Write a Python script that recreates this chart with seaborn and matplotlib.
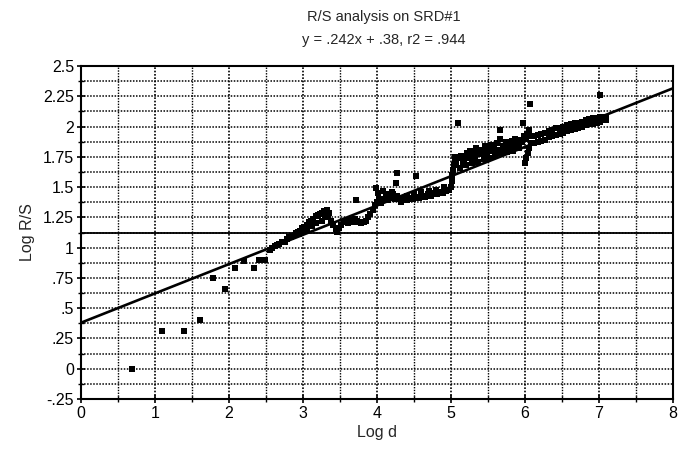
import matplotlib
matplotlib.use("Agg")
import matplotlib.pyplot as plt
from matplotlib.ticker import MultipleLocator, FixedLocator
import seaborn as sns
import pandas as pd

# ---------------- data ----------------
# sparse small-d points
seg_a_x = [0.69, 1.10, 1.39, 1.61, 1.79, 1.95, 2.08, 2.20, 2.34, 2.41, 2.49]
seg_a_y = [0.00, 0.31, 0.31, 0.40, 0.75, 0.66, 0.83, 0.89, 0.83, 0.90, 0.90]

# rising band 2.5 - 3.4
seg_b_x = [2.55, 2.58, 2.62, 2.65, 2.68, 2.72, 2.75, 2.78, 2.81, 2.84, 2.87, 2.90, 2.93, 2.96,
           2.99, 3.02, 3.05, 3.08, 3.11, 3.14, 3.17, 3.20, 3.23, 3.26, 3.29, 3.32, 3.35,
           2.95, 3.00, 3.05, 3.12, 3.18, 3.25, 3.30, 3.34]
seg_b_y = [0.98, 1.00, 1.01, 1.02, 1.03, 1.05, 1.05, 1.07, 1.09, 1.09, 1.10, 1.12, 1.13, 1.14,
           1.16, 1.17, 1.19, 1.21, 1.22, 1.24, 1.26, 1.27, 1.28, 1.29, 1.30, 1.31, 1.29,
           1.11, 1.13, 1.15, 1.18, 1.20, 1.22, 1.25, 1.27]

# dip below the line 3.4 - 3.95
seg_c_x = [3.38, 3.41, 3.44, 3.46, 3.49, 3.52, 3.55, 3.58, 3.61, 3.64, 3.67, 3.70, 3.73, 3.76,
           3.79, 3.82, 3.85, 3.88, 3.91, 3.94, 3.72]
seg_c_y = [1.22, 1.19, 1.15, 1.13, 1.16, 1.19, 1.21, 1.22, 1.20, 1.23, 1.21, 1.24, 1.22, 1.21,
           1.20, 1.21, 1.22, 1.25, 1.28, 1.31, 1.39]

# cluster near the line 3.95 - 4.35
seg_d_x = [3.97, 4.00, 4.03, 4.06, 4.09, 4.12, 4.15, 4.18, 4.21, 4.24, 4.27, 4.30, 4.02, 4.08,
           4.14, 4.20, 3.99, 4.26, 4.27, 4.53]
seg_d_y = [1.35, 1.38, 1.40, 1.37, 1.40, 1.42, 1.39, 1.41, 1.44, 1.40, 1.43, 1.41, 1.45, 1.47,
           1.44, 1.46, 1.49, 1.53, 1.62, 1.59]

# lower band 4.3 - 5.0
seg_e_x = [4.33, 4.37, 4.41, 4.45, 4.49, 4.53, 4.57, 4.61, 4.65, 4.69, 4.73, 4.77, 4.81, 4.85,
           4.89, 4.93, 4.97, 4.40, 4.50, 4.60, 4.70, 4.80, 4.90]
seg_e_y = [1.38, 1.40, 1.39, 1.41, 1.40, 1.42, 1.41, 1.43, 1.42, 1.44, 1.43, 1.45, 1.44, 1.46,
           1.45, 1.47, 1.48, 1.43, 1.44, 1.46, 1.47, 1.48, 1.50]

# jump near log d = 5
seg_f_x = [5.00, 5.01, 5.02, 5.03, 5.04, 5.05, 5.06, 5.07, 5.10]
seg_f_y = [1.50, 1.55, 1.60, 1.64, 1.68, 1.72, 1.75, 1.70, 2.03]

# thick band 5.1 - 6.1
seg_g_x = [5.10, 5.14, 5.18, 5.22, 5.26, 5.30, 5.34, 5.38, 5.42, 5.46, 5.50, 5.54, 5.58, 5.62,
           5.66, 5.70, 5.74, 5.78, 5.82, 5.86, 5.90, 5.94, 5.98,
           5.12, 5.20, 5.28, 5.36, 5.44, 5.52, 5.60, 5.68, 5.76, 5.84, 5.92,
           5.16, 5.24, 5.32, 5.40, 5.48, 5.56, 5.64, 5.72, 5.80, 5.88, 5.96,
           5.30, 5.45, 5.60, 5.75, 5.90,
           6.00, 6.02, 6.04, 6.06, 6.08, 6.01, 6.03, 6.05, 6.07,
           5.66, 5.97, 6.07]
seg_g_y = [1.74, 1.76, 1.73, 1.78, 1.80, 1.78, 1.82, 1.79, 1.81, 1.84, 1.82, 1.85, 1.83, 1.86,
           1.90, 1.84, 1.87, 1.85, 1.88, 1.90, 1.86, 1.89, 1.92,
           1.66, 1.68, 1.70, 1.71, 1.73, 1.74, 1.76, 1.78, 1.79, 1.80, 1.82,
           1.71, 1.74, 1.75, 1.77, 1.78, 1.80, 1.81, 1.82, 1.83, 1.84, 1.87,
           1.74, 1.77, 1.79, 1.81, 1.84,
           1.70, 1.74, 1.78, 1.82, 1.86, 1.90, 1.94, 1.97, 1.92,
           1.97, 2.03, 2.19]

# tight band 6.1 - 7.1
seg_h_x = [6.12, 6.17, 6.22, 6.27, 6.32, 6.37, 6.42, 6.47, 6.52, 6.57, 6.62, 6.67, 6.72, 6.77,
           6.82, 6.87, 6.92, 6.97, 7.02, 7.07, 7.10,
           6.12, 6.17, 6.22, 6.27, 6.32, 6.37, 6.42, 6.47, 6.52, 6.57, 6.62, 6.67, 6.72, 6.77,
           6.82, 6.87, 6.92, 6.97, 7.02, 7.07, 7.10, 7.01]
seg_h_y = [1.92, 1.93, 1.94, 1.95, 1.96, 1.97, 1.99, 1.99, 2.00, 2.01, 2.02, 2.03, 2.03, 2.04,
           2.05, 2.06, 2.07, 2.07, 2.08, 2.08, 2.07,
           1.86, 1.87, 1.88, 1.89, 1.91, 1.92, 1.93, 1.94, 1.95, 1.96, 1.97, 1.98, 1.99, 2.00,
           2.01, 2.02, 2.02, 2.03, 2.04, 2.05, 2.05, 2.26]

# regression reported in the title
slope = 0.242
intercept = 0.38
fit_x = [0, 8]

title_line1 = "R/S analysis on SRD#1"
title_line2 = "y = .242x + .38, r2 = .944"
y_tick_values = [2.5, 2.25, 2.0, 1.75, 1.5, 1.25, 1.0, 0.75, 0.5, 0.25, 0.0, -0.25]
y_tick_labels = ["2.5", "2.25", "2", "1.75", "1.5", "1.25", "1", ".75", ".5", ".25", "0", "-.25"]
x_tick_values = [0, 1, 2, 3, 4, 5, 6, 7, 8]
x_tick_labels = ["0", "1", "2", "3", "4", "5", "6", "7", "8"]

# ---------------- build frames ----------------
xs = seg_a_x + seg_b_x + seg_c_x + seg_d_x + seg_e_x + seg_f_x + seg_g_x + seg_h_x
ys = seg_a_y + seg_b_y + seg_c_y + seg_d_y + seg_e_y + seg_f_y + seg_g_y + seg_h_y
pts = pd.DataFrame({"log_d": xs, "log_rs": ys})
fit = pd.DataFrame({"log_d": fit_x, "log_rs": [slope * v + intercept for v in fit_x]})

# ---------------- style ----------------
sns.set_theme(style="white")
plt.rcParams["font.family"] = ["Liberation Sans", "DejaVu Sans"]

fig = plt.figure(figsize=(6.84, 4.5), dpi=100)
ax = fig.add_axes([81 / 684, 1 - 399 / 450, (673 - 81) / 684, (399 - 66) / 450])

ax.set_xlim(0, 8)
ax.set_ylim(-0.25, 2.5)

# grid
ax.xaxis.set_major_locator(FixedLocator(x_tick_values))
ax.xaxis.set_minor_locator(MultipleLocator(0.5))
ax.yaxis.set_major_locator(FixedLocator(y_tick_values))
ax.yaxis.set_minor_locator(MultipleLocator(0.125))
ax.set_xticklabels(x_tick_labels)
ax.set_yticklabels(y_tick_labels)

ax.grid(which="major", axis="x", color="black", linestyle=(0, (1, 1)), linewidth=1.2)
ax.grid(which="minor", axis="x", color="black", linestyle=(0, (1, 1)), linewidth=1.0)
ax.grid(which="both", axis="y", color="black", linestyle=(0, (1, 1)), linewidth=1.1)
ax.axhline(1.125, color="black", linewidth=1.3, zorder=1)
ax.set_axisbelow(True)

for s in ax.spines.values():
    s.set_visible(True)
    s.set_color("black")
    s.set_linewidth(1.5)

ax.tick_params(which="major", direction="inout", length=6, width=1.2, color="black",
               labelsize=11.5, pad=2, left=True, bottom=True, labelcolor="black")
ax.tick_params(which="minor", direction="inout", length=5, width=1.0, color="black",
               left=True, bottom=True)

# marks
sns.lineplot(data=fit, x="log_d", y="log_rs", ax=ax, color="black", linewidth=1.9, zorder=3)
sns.scatterplot(data=pts, x="log_d", y="log_rs", ax=ax, marker="s", s=20, color="black",
                linewidth=0, zorder=4)

ax.set_xlabel("Log d", fontsize=11.5, labelpad=3)
ax.set_ylabel("Log R/S", fontsize=11.5, labelpad=6)

fig.text(384 / 684, 1 - 17 / 450, title_line1, ha="center", va="center", fontsize=10.5)
fig.text(384 / 684, 1 - 40 / 450, title_line2, ha="center", va="center", fontsize=10.5)

fig.savefig("out.png", dpi=100)
